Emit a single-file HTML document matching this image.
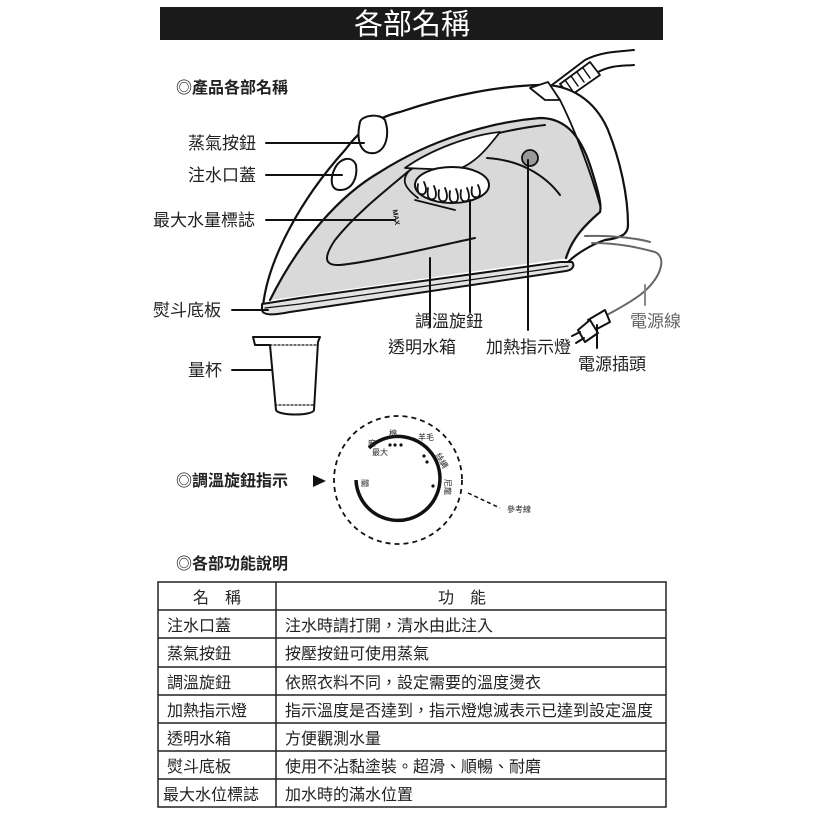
<!DOCTYPE html>
<html><head><meta charset="utf-8"><style>
html,body{margin:0;padding:0;background:#fff;}
svg{display:block;}
text{font-family:"Liberation Sans","Noto Sans CJK TC",sans-serif;fill:#222;}
</style></head><body>
<svg width="828" height="828" viewBox="0 0 828 828" xmlns="http://www.w3.org/2000/svg">
<!-- header -->
<rect x="160" y="7" width="503" height="33" fill="#1a1a1a"/>
<text x="412" y="34" font-size="29" text-anchor="middle" style="fill:#fff">各部名稱</text>
<text x="176" y="93" font-size="16" font-weight="bold">◎產品各部名稱</text>

<!-- iron -->
<g stroke="#111" stroke-width="2.2" fill="none" stroke-linecap="round" stroke-linejoin="round">
<!-- cord top -->
<path d="M548,88 L585,60 C600,52 615,52 634,50" stroke-width="2"/>
<path d="M558,100 L598,72 C612,65 622,66 634,65" stroke-width="2"/>
<path d="M560,84 L590,62 L600,75 L570,96 Z" fill="#fff" stroke-width="1.8"/>
<path d="M565,80 l7,10 M571,76 l7,10 M577,72 l7,10 M583,68 l7,10" stroke-width="1.5"/>
<!-- body shell -->
<path d="M263,306 C268,260 300,200 345,150 C360,130 375,118 400,112 C450,95 500,86 540,85 C570,84 595,100 608,130 C620,160 628,195 628,225 C628,235 620,238 605,240 C590,245 575,255 568,262" fill="#fff"/>
<!-- gray panel -->
<path d="M270,300 C300,240 340,195 380,172 C430,140 490,122 540,118 C565,118 580,135 590,165 C598,190 602,205 600,212 C590,225 575,235 568,258 L300,296 Z" fill="#d9d9d9" stroke="none"/>
<path d="M270,300 C300,240 340,195 380,172 C430,140 490,122 540,118 C565,118 580,135 590,165 C598,190 602,205 600,212"/>
<path d="M600,212 C585,225 572,238 566,258"/>
<!-- inner loop -->
<path d="M475,238 C420,250 370,262 340,265 C322,266 325,255 335,240 C355,215 380,195 410,170 C445,145 500,130 545,125" stroke-width="2"/>
<path d="M410,170 C400,180 405,188 418,198" stroke-width="1.8"/>
<path d="M415,200 L455,210" stroke-width="1.8"/>
<!-- white sail -->
<path d="M405,168 C430,150 470,135 500,132 C490,145 475,165 455,170 Z" fill="#fff" stroke-width="1.8"/>
<!-- dial -->
<ellipse cx="452" cy="185" rx="37" ry="18" fill="#fff" stroke-width="2"/>
<g stroke-width="1.8" fill="#fff">
<path d="M418,184 q-2,12 6,10 q4,-3 0,-12"/>
<path d="M428,188 q-2,13 6,11 q4,-3 0,-13"/>
<path d="M439,190 q-2,13 6,11 q4,-3 0,-13"/>
<path d="M450,191 q-2,13 6,11 q4,-3 0,-13"/>
<path d="M461,190 q-2,13 6,11 q4,-3 0,-13"/>
<path d="M472,187 q-2,12 6,10 q4,-3 0,-12"/>
</g>
<!-- indicator -->
<circle cx="530" cy="158" r="8" fill="#999" stroke-width="1.8"/>
<path d="M487,158 C520,160 545,175 560,195" stroke-width="2"/>
<!-- steam button & cap -->
<path d="M360,122 C362,115 380,113 385,120 C390,135 386,150 375,153 C360,155 356,140 360,122 Z" fill="#fff" stroke-width="2"/>
<path d="M335,168 C340,158 352,155 356,165 C358,178 352,190 340,190 C330,190 330,178 335,168 Z" fill="#fff" stroke-width="2"/>
<!-- handle top -->
<path d="M530,88 L548,82 L560,100 L545,100 Z" fill="#fff" stroke-width="1.8"/>
<path d="M560,100 C575,130 590,170 600,205" stroke-width="1.8"/>
<!-- soleplate -->
<path d="M262,304 L300,298 L560,262 L572,262 C575,265 573,270 566,271 L290,312 C275,315 263,316 262,310 Z" fill="#e2e2e2" stroke-width="2"/>
<path d="M265,308 L300,304 L568,266" stroke-width="1.2"/>
<!-- MAX -->
<text x="390" y="213" font-size="7" font-weight="bold" transform="rotate(80 393 213)" style="fill:#111" stroke="none">MAX</text>
<!-- rear cord -->
<path d="M592,243 C620,243 640,248 655,252 C668,258 660,280 640,295 C625,306 612,312 605,316" stroke="#666" stroke-width="2"/>
<path d="M585,236 C615,235 640,239 650,242" stroke="#666" stroke-width="2"/>
<!-- plug -->
<path d="M605,310 L610,322 L595,330 L588,320 Z" fill="#fff" stroke-width="2"/>
<path d="M590,320 L598,333 L585,342 L578,330 Z" fill="#fff" stroke-width="2"/>
<path d="M580,332 L572,336 M584,338 L576,343" stroke-width="2"/>
<!-- label lines -->
<g stroke-width="2">
<line x1="266" y1="143" x2="364" y2="143"/>
<line x1="266" y1="175" x2="342" y2="175"/>
<line x1="266" y1="220" x2="395" y2="220"/>
<line x1="232" y1="310" x2="268" y2="310"/>
<line x1="232" y1="370" x2="272" y2="370"/>
<line x1="430" y1="258" x2="430" y2="327"/>
<line x1="470" y1="200" x2="470" y2="312"/>
<line x1="528" y1="160" x2="528" y2="330"/>
<line x1="597" y1="325" x2="597" y2="348"/>
<line x1="645" y1="285" x2="645" y2="305" stroke="#888"/>
</g>
<!-- cup -->
<path d="M253,337 L320,337 L318,342 L314,410 C313,416 278,416 276,410 L270,345 L255,345 Z" fill="#fff" stroke-width="2"/>
<path d="M270,345 L318,345" stroke-width="1.2" stroke-dasharray="2 2"/>
<path d="M275,405 L314,405" stroke-width="1.2" stroke-dasharray="2 2"/>
</g>

<!-- labels -->
<g font-size="17">
<text x="188" y="149">蒸氣按鈕</text>
<text x="188" y="181">注水口蓋</text>
<text x="153" y="226">最大水量標誌</text>
<text x="153" y="316">熨斗底板</text>
<text x="188" y="376">量杯</text>
<text x="415" y="327">調溫旋鈕</text>
<text x="388" y="353">透明水箱</text>
<text x="486" y="353">加熱指示燈</text>
<text x="578" y="370">電源插頭</text>
<text x="630" y="327" style="fill:#666">電源線</text>
</g>

<!-- dial indicator -->
<text x="176" y="486" font-size="16" font-weight="bold">◎調溫旋鈕指示</text>
<polygon points="313,475 326,481 313,487" fill="#111"/>
<circle cx="398" cy="480" r="64" fill="none" stroke="#111" stroke-width="1.8" stroke-dasharray="5 4"/>
<path d="M356,480 A42,42 0 1 0 369,448" fill="none" stroke="#111" stroke-width="3.5"/>
<line x1="468" y1="493" x2="500" y2="508" stroke="#111" stroke-width="1.5" stroke-dasharray="4 3"/>
<text x="507" y="512" font-size="8">參考線</text>
<g font-size="8">
<text x="368" y="446">麻</text>
<text x="389" y="436">棉</text>
<text x="418" y="440">羊毛</text>
<text x="372" y="455">最大</text>
<text x="436" y="460" transform="rotate(60 440 457)">絲綢</text>
<text x="444" y="486" transform="rotate(90 448 483)">尼龍</text>
<text x="362" y="485" transform="rotate(90 365 482)">關</text>
</g>
<g fill="#111">
<circle cx="390" cy="445" r="1.6"/><circle cx="395" cy="445" r="1.6"/><circle cx="401" cy="445" r="1.6"/>
<circle cx="424" cy="456" r="1.6"/><circle cx="427" cy="462" r="1.6"/><circle cx="433" cy="486" r="1.6"/>
</g>

<!-- function table -->
<text x="176" y="569" font-size="16" font-weight="bold">◎各部功能說明</text>
<g stroke="#222" stroke-width="1.5" fill="none">
<rect x="158" y="582" width="508" height="225"/>
<line x1="276" y1="582" x2="276" y2="807"/>
<line x1="158" y1="610" x2="666" y2="610"/>
<line x1="158" y1="638" x2="666" y2="638"/>
<line x1="158" y1="667" x2="666" y2="667"/>
<line x1="158" y1="695" x2="666" y2="695"/>
<line x1="158" y1="723" x2="666" y2="723"/>
<line x1="158" y1="751" x2="666" y2="751"/>
<line x1="158" y1="779" x2="666" y2="779"/>
</g>
<g font-size="16">
<text x="217" y="603" text-anchor="middle">名　稱</text>
<text x="462" y="603" text-anchor="middle">功　能</text>
<text x="167" y="631">注水口蓋</text><text x="285" y="631">注水時請打開，清水由此注入</text>
<text x="167" y="659">蒸氣按鈕</text><text x="285" y="659">按壓按鈕可使用蒸氣</text>
<text x="167" y="688">調溫旋鈕</text><text x="285" y="688">依照衣料不同，設定需要的溫度燙衣</text>
<text x="167" y="716">加熱指示燈</text><text x="285" y="716">指示溫度是否達到，指示燈熄滅表示已達到設定溫度</text>
<text x="167" y="744">透明水箱</text><text x="285" y="744">方便觀測水量</text>
<text x="167" y="772">熨斗底板</text><text x="285" y="772">使用不沾黏塗裝。超滑、順暢、耐磨</text>
<text x="163" y="800">最大水位標誌</text><text x="285" y="800">加水時的滿水位置</text>
</g>
</svg>
</body></html>
